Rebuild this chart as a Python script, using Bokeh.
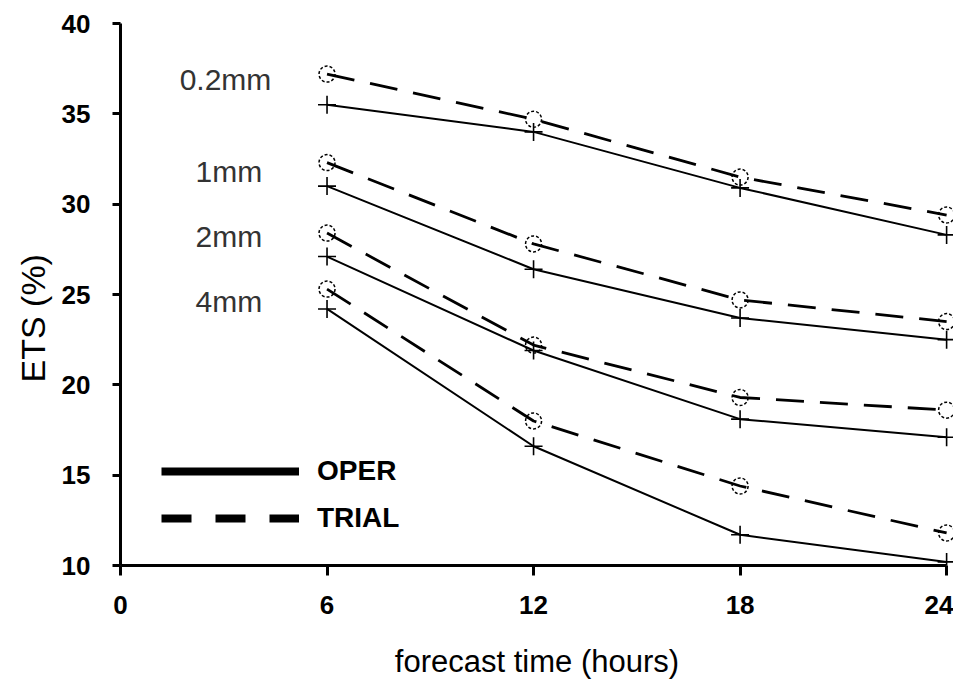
from bokeh.plotting import figure
from bokeh.models import Range1d, FixedTicker, Legend, LegendItem, ColumnDataSource, Title
from bokeh.core.properties import value
from bokeh.embed import file_html
from bokeh.resources import INLINE

# ---- data ----
hours = [6, 12, 18, 24]
oper_02 = [35.5, 34.0, 30.9, 28.3]
trial_02 = [37.2, 34.7, 31.5, 29.4]
oper_1 = [31.0, 26.4, 23.7, 22.5]
trial_1 = [32.3, 27.8, 24.7, 23.5]
oper_2 = [27.1, 21.9, 18.1, 17.1]
trial_2 = [28.4, 22.2, 19.3, 18.6]
oper_4 = [24.2, 16.6, 11.7, 10.2]
trial_4 = [25.3, 18.0, 14.4, 11.8]

thresholds = ["0.2mm", "1mm", "2mm", "4mm"]
x_ticks = [0, 6, 12, 18, 24]
y_ticks = [10, 15, 20, 25, 30, 35, 40]

# label placement (annotation positions, in data units)
label_x = [3.05, 3.15, 3.15, 3.15]
label_y = [36.9, 31.8, 28.2, 24.6]

FONT = "Liberation Sans"
NAN = float("nan")

p = figure(width=953, height=692, output_backend="svg", toolbar_location=None,
           x_range=Range1d(0, 24.2), y_range=Range1d(10, 40),
           min_border_left=120, min_border_right=0, min_border_top=23, min_border_bottom=127)
p.background_fill_color = "white"
p.border_fill_color = "white"
p.outline_line_color = None
p.grid.visible = False

oper_sets = [oper_02, oper_1, oper_2, oper_4]
trial_sets = [trial_02, trial_1, trial_2, trial_4]

for op, tr in zip(oper_sets, trial_sets):
    p.line(hours, op, line_color="black", line_width=2)
    p.line(hours, tr, line_color="black", line_width=2.8, line_dash="28 16")
    p.scatter(hours, op, marker="cross", size=18, line_color="black", line_width=1.6)
    p.scatter(hours, tr, marker="circle", size=16, fill_color=None,
              line_color="black", line_width=1.5, line_dash="3 2")

src = ColumnDataSource(dict(x=label_x, y=label_y, t=thresholds))
p.text(x="x", y="y", text="t", source=src, text_font=value(FONT),
       text_font_size="30px", text_color="#333333", text_align="center",
       text_baseline="middle")

# legend renderers (style only, no visible data)
r_oper = p.line([0, 0], [NAN, NAN], line_color="black", line_width=8)
r_trial = p.line([0, 0], [NAN, NAN], line_color="black", line_width=8, line_dash="30 24")
legend = Legend(items=[LegendItem(label="OPER", renderers=[r_oper]),
                       LegendItem(label="TRIAL", renderers=[r_trial])],
                location=(41, 29), glyph_width=138, glyph_height=36,
                label_height=36, label_standoff=18, spacing=11,
                padding=0, margin=0, border_line_color=None,
                background_fill_alpha=0,
                label_text_font=FONT, label_text_font_style="bold",
                label_text_font_size="28px", label_text_color="black",
                label_text_baseline="middle")
p.add_layout(legend, "center")

# y-axis title as a side title (placed like the original, below centre)
ytitle = Title(text="ETS (%)", align="left", offset=183,
               text_font=FONT, text_font_size="34px", text_font_style="normal",
               text_color="black", standoff=14)
p.add_layout(ytitle, "left")

# axes
p.xaxis.ticker = FixedTicker(ticks=x_ticks)
p.yaxis.ticker = FixedTicker(ticks=y_ticks)
p.xaxis.bounds = (0, 24)
p.yaxis.bounds = (10, 40)
for ax in (p.xaxis, p.yaxis):
    ax.axis_line_width = 3
    ax.axis_line_color = "black"
    ax.major_tick_line_width = 3
    ax.major_tick_line_color = "black"
    ax.major_tick_in = 0
    ax.minor_tick_line_color = None
    ax.major_label_text_font = FONT
    ax.major_label_text_font_style = "bold"
    ax.major_label_text_font_size = "26px"
    ax.major_label_text_color = "black"
    ax.axis_label_text_font = FONT
    ax.axis_label_text_font_style = "normal"
    ax.axis_label_text_color = "black"
p.xaxis.major_tick_out = 10
p.yaxis.major_tick_out = 8
p.xaxis.major_label_standoff = 20
p.yaxis.major_label_standoff = 22
p.xaxis.axis_label = "forecast time (hours)"
p.xaxis.axis_label_text_font_size = "31px"
p.xaxis.axis_label_standoff = 27

open("out.html", "w").write(file_html(p, INLINE))
